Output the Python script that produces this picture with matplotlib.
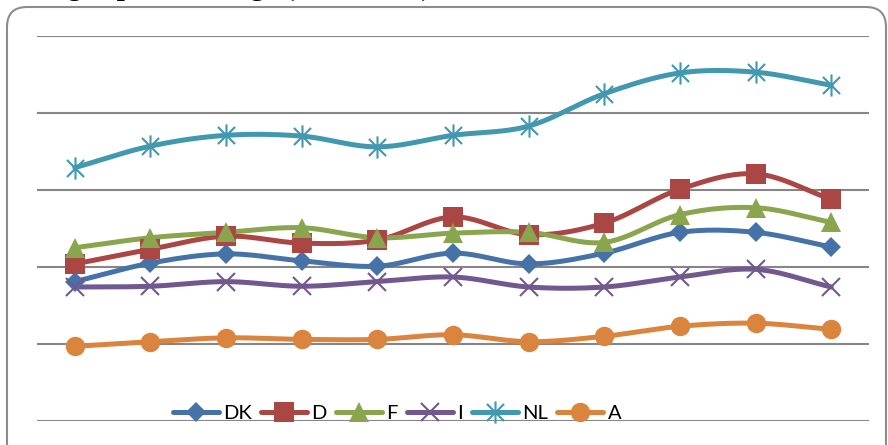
import numpy as np
import matplotlib
matplotlib.use("Agg")
import matplotlib.pyplot as plt
from matplotlib.patches import FancyBboxPatch
from matplotlib.path import Path

# datos (escala sin etiquetas, lineas de rejilla en 0..5)
categorias = list(range(11))
dk = [1.81, 2.05, 2.17, 2.08, 2.01, 2.18, 2.04, 2.18, 2.45, 2.45, 2.26]
d = [2.04, 2.23, 2.40, 2.31, 2.35, 2.65, 2.42, 2.57, 3.01, 3.21, 2.88]
f = [2.25, 2.38, 2.45, 2.51, 2.38, 2.44, 2.45, 2.32, 2.68, 2.77, 2.58]
i_ = [1.74, 1.75, 1.81, 1.75, 1.81, 1.87, 1.74, 1.74, 1.87, 1.97, 1.74]
nl = [3.29, 3.57, 3.71, 3.70, 3.56, 3.71, 3.83, 4.25, 4.52, 4.53, 4.36]
a = [0.97, 1.03, 1.08, 1.06, 1.06, 1.12, 1.03, 1.10, 1.23, 1.27, 1.19]
nombres = ["DK", "D", "F", "I", "NL", "A"]

# marcador estrella estilo Excel (X + linea vertical)
estrella = Path([(-1, -1), (1, 1), (-1, 1), (1, -1), (0, -1.3), (0, 1.3)],
                [Path.MOVETO, Path.LINETO, Path.MOVETO, Path.LINETO, Path.MOVETO, Path.LINETO])

estilos = [
    ("#4572A7", "D", 10.5),
    ("#AA4643", "s", 14),
    ("#89A54E", "^", 14),
    ("#71588F", "x", 13),
    ("#4198AF", estrella, 16),
    ("#DB843D", "o", 14),
]


def suavizar(x, y, n=24):
    # Catmull-Rom como el suavizado de Excel
    x = np.asarray(x, float)
    y = np.asarray(y, float)
    px = np.concatenate([[2 * x[0] - x[1]], x, [2 * x[-1] - x[-2]]])
    py = np.concatenate([[2 * y[0] - y[1]], y, [2 * y[-1] - y[-2]]])
    xs, ys = [], []
    t = np.linspace(0, 1, n, endpoint=False)
    for k in range(1, len(px) - 2):
        for p, out in ((px, xs), (py, ys)):
            p0, p1, p2, p3 = p[k - 1], p[k], p[k + 1], p[k + 2]
            out.extend(0.5 * (2 * p1 + (-p0 + p2) * t + (2 * p0 - 5 * p1 + 4 * p2 - p3) * t ** 2
                              + (-p0 + 3 * p1 - 3 * p2 + p3) * t ** 3))
    xs.append(x[-1])
    ys.append(y[-1])
    return xs, ys


fig = plt.figure(figsize=(8.88, 4.45), dpi=100)

# marco redondeado (en pulgadas)
marco = FancyBboxPatch((0.07, -0.5), 8.79, 4.45 - 0.07 + 0.5,
                       boxstyle="round,pad=0,rounding_size=0.2",
                       transform=fig.dpi_scale_trans, fill=False,
                       edgecolor="#8c8c8c", linewidth=1.5)
fig.patches.append(marco)

# titulo cortado arriba, como en la imagen original
fig.text(-28 / 888, 1 + 5 / 445, "Working capital average (2000-2010)", fontsize=21,
         fontweight="bold", family=["Liberation Serif", "DejaVu Serif"],
         va="baseline", ha="left")

ax = fig.add_axes([37 / 888, 24 / 445, 832 / 888, 385 / 445])
ax.set_xlim(-0.5, 10.5)
ax.set_ylim(0, 5)
for s in ax.spines.values():
    s.set_visible(False)
ax.set_xticks([])
ax.set_yticks([0, 1, 2, 3, 4, 5])
ax.tick_params(left=False, labelleft=False)
ax.grid(axis="y", color="#868686", linewidth=1.5)
ax.set_axisbelow(True)

series = [dk, d, f, i_, nl, a]
handles = []
for nombre, valores, (color, marca, tam) in zip(nombres, series, estilos):
    xs, ys = suavizar(categorias, valores)
    ax.plot(xs, ys, color=color, linewidth=3.6, solid_capstyle="round", zorder=3)
    mew = 1.5 if marca == "x" or marca is estrella else 0
    ax.plot(categorias, valores, linestyle="none", marker=marca, markersize=tam,
            color=color, markeredgecolor=color, markeredgewidth=mew, zorder=4)
    h, = ax.plot([], [], color=color, linewidth=3.6, marker=marca, markersize=tam,
                 markeredgecolor=color, markeredgewidth=mew, solid_capstyle="round")
    handles.append(h)

fig.legend(handles, nombres, loc="center", bbox_to_anchor=(397 / 888, 32 / 445),
           ncol=6, frameon=False, handlelength=2.3, handletextpad=0.2,
           columnspacing=0.45, prop={"family": "Lato", "size": 14.5})

fig.savefig("out.png", dpi=100)
